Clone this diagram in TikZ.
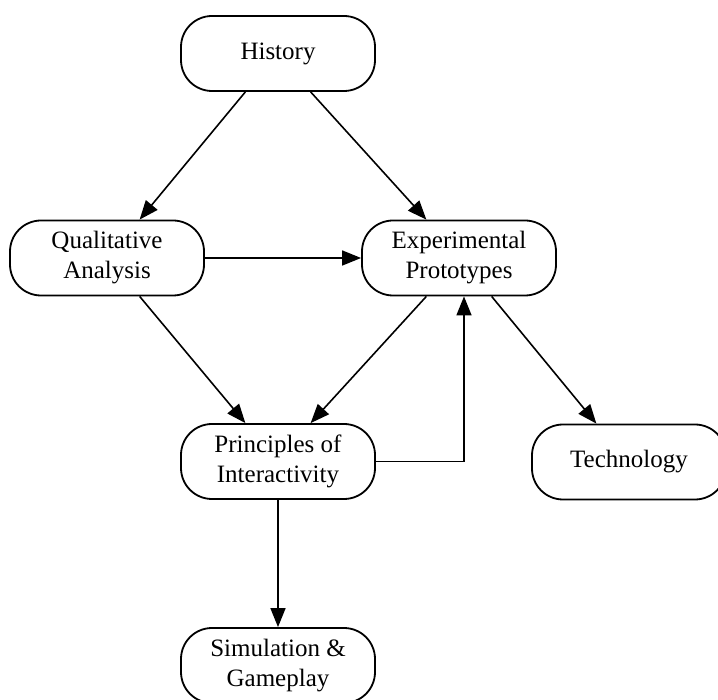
\documentclass[tikz,border=0pt]{standalone}
\usepackage{fontspec}
\setmainfont{Liberation Serif}
\usetikzlibrary{arrows.meta,calc}
\begin{document}
\begin{tikzpicture}[x=1pt,y=-1pt,
  box/.style={draw, line width=1.8pt, rounded corners=31pt, minimum width=194pt, minimum height=75pt, inner sep=0pt, align=center, font=\fontsize{25}{30}\selectfont},
  conn/.style={line width=1.6pt, -{Triangle[length=19pt,width=15pt]}}]
\useasboundingbox (0,0) rectangle (718,700);
\clip (0,0) rectangle (718,700);
\node[box] (hist) at (278,53.5) {History};
\node[box] (qual) at (107,258) {Qualitative\\Analysis};
\node[box] (exp) at (459,258) {Experimental\\Prototypes};
\node[box] (princ) at (278,461.5) {Principles of\\Interactivity};
\node[box] (tech) at (629,462) {Technology};
\node[box] (sim) at (278,665.5) {Simulation \&\\Gameplay};
\draw[conn] ($(hist.south west)!1/3!(hist.south east)$) -- ($(qual.north west)!2/3!(qual.north east)$);
\draw[conn] ($(hist.south west)!2/3!(hist.south east)$) -- ($(exp.north west)!1/3!(exp.north east)$);
\draw[conn] (qual.east) -- (exp.west);
\draw[conn] ($(qual.south west)!2/3!(qual.south east)$) -- ($(princ.north west)!1/3!(princ.north east)$);
\draw[conn] ($(exp.south west)!1/3!(exp.south east)$) -- ($(princ.north west)!2/3!(princ.north east)$);
\draw[conn] ($(exp.south west)!2/3!(exp.south east)$) -- ($(tech.north west)!1/3!(tech.north east)$);
\draw[conn] (princ.east) -| ($(exp.south)+(5,0)$);
\draw[conn] (princ.south) -- (sim.north);
\end{tikzpicture}
\end{document}
